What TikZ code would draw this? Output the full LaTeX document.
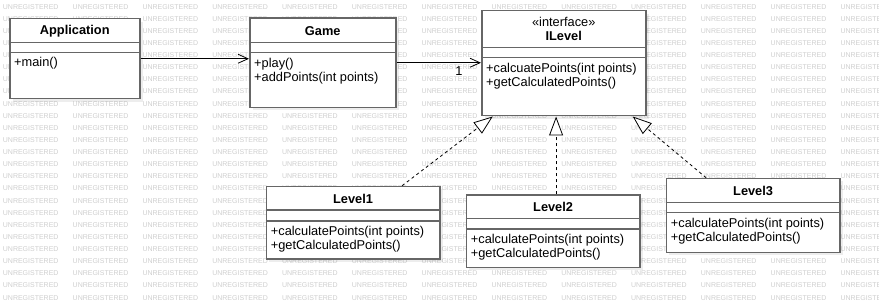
\documentclass[tikz,border=0pt]{standalone}
\usepackage{fontspec}
\setmainfont{Liberation Sans}
\usetikzlibrary{arrows.meta,positioning,shadows}
\definecolor{frame}{RGB}{102,102,102}
\definecolor{stamp}{RGB}{206,206,206}

\begin{document}
\begin{tikzpicture}[x=1pt, y=-1pt,
    cls/.style={rectangle, draw=frame, line width=1.5pt, fill=white, anchor=north west, inner sep=0pt,
        drop shadow={shadow xshift=3pt, shadow yshift=-3pt, fill=black, draw=none, opacity=0.07}},
    clsname/.style={inner sep=0pt, font=\bfseries\fontsize{12.8}{14}\selectfont},
    ops/.style={anchor=west, align=left, inner sep=0pt, font=\fontsize{12.8}{14}\selectfont},
    divider/.style={draw=frame, line width=1.5pt},
    wm/.style={anchor=west, inner sep=0pt, text=stamp, font=\fontsize{7}{7}\selectfont},
    assoc/.style={-{Straight Barb[length=10pt, width=9pt]}, line width=0.8pt},
    realize/.style={-{Triangle[open, length=19pt, width=14pt, fill=white]}, line width=0.8pt, dash pattern=on 3pt off 3pt}]

    \useasboundingbox (0,0) rectangle (879,307);

    % Watermark grid
    \foreach \r in {0,...,24}
        \foreach \c in {0,...,12}
            \node[wm] (wm-\r-\c) at (2.7+69.8*\c, 6.7+12.125*\r) {UNREGISTERED};

    % Top row
    \node[cls, minimum width=130, minimum height=80] (app) at (9,18) {};
    \node[clsname] (app-name) at ([yshift=-12.7pt]app.north) {Application};
    \node[ops] (app-ops) at ([xshift=5pt, yshift=-45pt]app.north west) {+main()};

    \node[cls, minimum width=146, minimum height=89.4] (game) at (249,17.3) {};
    \node[clsname] (game-name) at ([yshift=-13.4pt]game.north) {Game};
    \node[ops] (game-ops) at ([xshift=5pt, yshift=-54pt]game.north west) {+play()\\+addPoints(int points)};

    \node[cls, minimum width=164, minimum height=105] (ilevel) at (481,10) {};
    \node[ops, anchor=center] (ilevel-st) at ([yshift=-11.7pt]ilevel.north) {«interface»};
    \node[clsname] (ilevel-name) at ([yshift=-26pt]ilevel.north) {ILevel};
    \node[ops] (ilevel-ops) at ([xshift=5pt, yshift=-66pt]ilevel.north west) {+calcuatePoints(int points)\\+getCalculatedPoints()};

    % Bottom row
    \node[cls, minimum width=173.3, minimum height=72.6] (l1) at (265.7,185.7) {};
    \node[clsname] (l1-name) at ([yshift=-13.3pt]l1.north) {Level1};
    \node[ops] (l1-ops) at ([xshift=5pt, yshift=-53.5pt]l1.north west) {+calculatePoints(int points)\\+getCalculatedPoints()};

    \node[cls, minimum width=173.3, minimum height=72.4] (l2) at (465.7,194.3) {};
    \node[clsname] (l2-name) at ([yshift=-12.7pt]l2.north) {Level2};
    \node[ops] (l2-ops) at ([xshift=5pt, yshift=-53.2pt]l2.north west) {+calculatePoints(int points)\\+getCalculatedPoints()};

    \node[cls, minimum width=173.3, minimum height=74] (l3) at (665.7,177.7) {};
    \node[clsname] (l3-name) at ([yshift=-13pt]l3.north) {Level3};
    \node[ops] (l3-ops) at ([xshift=5pt, yshift=-53pt]l3.north west) {+calculatePoints(int points)\\+getCalculatedPoints()};

    % Compartment lines
    \foreach \n/\a/\b in {app/24.7/34.7, game/25.4/35.4, ilevel/37.7/47.3, l1/24.3/35.3, l2/24/34.7, l3/25/35} {
        \draw[divider] ([yshift=-\a pt]\n.north west) -- ([yshift=-\a pt]\n.north east);
        \draw[divider] ([yshift=-\b pt]\n.north west) -- ([yshift=-\b pt]\n.north east);
    }

    % Associations
    \draw[assoc] (app.east) -- (app.east -| game.west);
    \draw[assoc] (game.east) -- (game.east -| ilevel.west)
        node[pos=0.74, below, font=\fontsize{12.8}{14}\selectfont] (mult) {1};

    % Realizations
    \draw[realize] ([xshift=49pt]l1.north) -- ([xshift=-71pt]ilevel.south);
    \draw[realize] ([xshift=3pt]l2.north) -- ([xshift=3pt]l2.north |- ilevel.south);
    \draw[realize] ([xshift=-47pt]l3.north) -- ([xshift=69pt]ilevel.south);

\end{tikzpicture}
\end{document}
